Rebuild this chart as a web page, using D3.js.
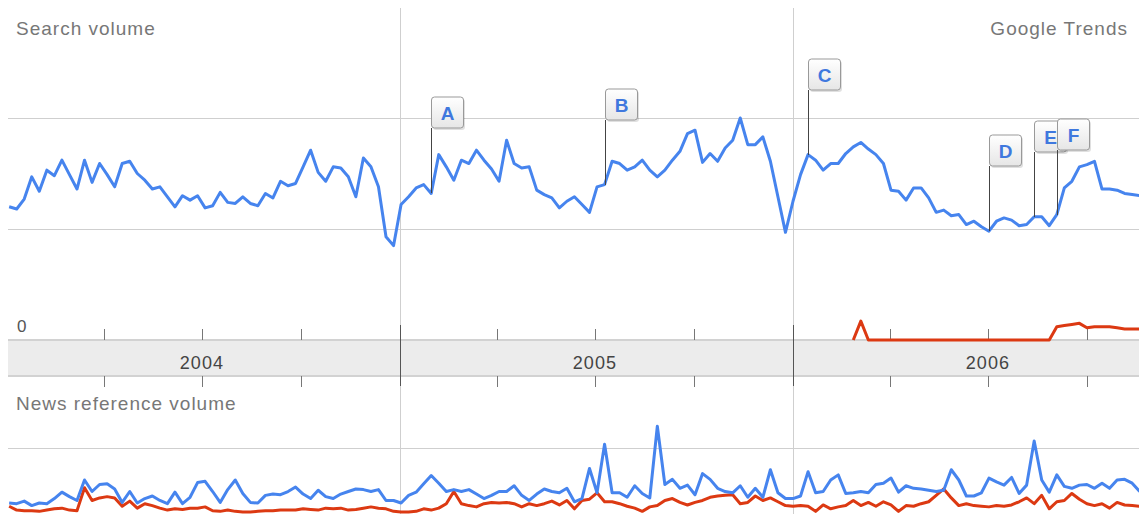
<!DOCTYPE html>
<html lang="en">
  <head>
    <meta charset="UTF-8" />
    <title>Google Trends</title>
    <style>
      body {
        margin: 0;
        background: #fff;
      }
      svg {
        display: block;
        font-family: "Liberation Sans", Arial, sans-serif;
      }
    </style>
  </head>

  <body>
    <div class="container"></div>

    <script src="https://d3js.org/d3.v7.min.js"></script>
    <script>
      // weekly data, first week starts 2004-01-04
      const firstWeek = new Date(Date.UTC(2004, 0, 4));

      // search volume, term 1 (blue)
      const searchBlue = [
        1.20, 1.18, 1.27, 1.47, 1.34, 1.53, 1.48, 1.62, 1.49, 1.36, 1.62, 1.42, 1.59, 1.49, 1.38, 1.59, 1.61, 1.50, 1.44, 1.36,
        1.38, 1.29, 1.20, 1.30, 1.26, 1.30, 1.19, 1.21, 1.33, 1.24, 1.23, 1.29, 1.23, 1.21, 1.32, 1.28, 1.43, 1.39, 1.41, 1.56,
        1.71, 1.51, 1.43, 1.56, 1.55, 1.47, 1.29, 1.64, 1.56, 1.38, 0.93, 0.85, 1.22, 1.29, 1.37, 1.40, 1.32, 1.67, 1.56, 1.44,
        1.62, 1.59, 1.71, 1.62, 1.54, 1.43, 1.80, 1.59, 1.55, 1.56, 1.35, 1.31, 1.28, 1.19, 1.25, 1.29, 1.22, 1.15, 1.38, 1.40,
        1.61, 1.59, 1.53, 1.56, 1.62, 1.53, 1.47, 1.53, 1.62, 1.70, 1.86, 1.89, 1.60, 1.68, 1.61, 1.73, 1.80, 2.00, 1.76, 1.76,
        1.83, 1.61, 1.29, 0.97, 1.25, 1.49, 1.67, 1.62, 1.53, 1.59, 1.59, 1.68, 1.74, 1.78, 1.72, 1.67, 1.59, 1.35, 1.34, 1.26,
        1.37, 1.37, 1.28, 1.15, 1.17, 1.12, 1.13, 1.04, 1.07, 1.02, 0.98, 1.07, 1.10, 1.08, 1.03, 1.04, 1.11, 1.11, 1.03, 1.13,
        1.37, 1.43, 1.56, 1.58, 1.61, 1.36, 1.36, 1.35, 1.32, 1.31, 1.30
      ];

      // search volume, term 2 (red) - only has data from week 112 on
      const searchRedFrom = 112;
      const searchRed = [
        0.00, 0.17, 0.00, 0.00, 0.00, 0.00, 0.00, 0.00, 0.00, 0.00, 0.00, 0.00, 0.00, 0.00, 0.00, 0.00, 0.00, 0.00, 0.00, 0.00,
        0.00, 0.00, 0.00, 0.00, 0.00, 0.00, 0.00, 0.12, 0.13, 0.14, 0.15, 0.11, 0.12, 0.12, 0.12, 0.11, 0.10, 0.10, 0.10
      ];

      // news reference volume
      const newsBlue = [
        0.14, 0.13, 0.17, 0.10, 0.14, 0.13, 0.21, 0.31, 0.24, 0.18, 0.50, 0.32, 0.43, 0.44, 0.36, 0.15, 0.32, 0.14, 0.21, 0.25,
        0.18, 0.13, 0.31, 0.13, 0.23, 0.46, 0.48, 0.32, 0.15, 0.35, 0.50, 0.29, 0.15, 0.14, 0.26, 0.28, 0.27, 0.32, 0.39, 0.28,
        0.21, 0.34, 0.24, 0.21, 0.28, 0.32, 0.36, 0.35, 0.32, 0.35, 0.18, 0.18, 0.14, 0.26, 0.31, 0.44, 0.57, 0.45, 0.32, 0.35,
        0.32, 0.35, 0.28, 0.21, 0.26, 0.32, 0.32, 0.41, 0.26, 0.18, 0.28, 0.36, 0.32, 0.30, 0.37, 0.16, 0.21, 0.68, 0.30, 1.06,
        0.30, 0.30, 0.23, 0.41, 0.29, 0.22, 1.34, 0.43, 0.51, 0.37, 0.42, 0.27, 0.60, 0.51, 0.37, 0.32, 0.30, 0.41, 0.23, 0.37,
        0.23, 0.66, 0.30, 0.21, 0.21, 0.25, 0.63, 0.30, 0.32, 0.50, 0.58, 0.29, 0.30, 0.32, 0.30, 0.43, 0.45, 0.53, 0.31, 0.41,
        0.37, 0.36, 0.34, 0.32, 0.34, 0.66, 0.50, 0.25, 0.25, 0.30, 0.53, 0.47, 0.42, 0.54, 0.29, 0.42, 1.11, 0.50, 0.31, 0.58,
        0.40, 0.37, 0.42, 0.43, 0.37, 0.45, 0.37, 0.50, 0.51, 0.45, 0.32
      ];
      const newsRed = [
        0.09, 0.03, 0.02, 0.02, 0.01, 0.03, 0.05, 0.06, 0.03, 0.02, 0.38, 0.18, 0.22, 0.24, 0.22, 0.09, 0.17, 0.06, 0.13, 0.10,
        0.06, 0.03, 0.05, 0.04, 0.06, 0.06, 0.08, 0.02, 0.01, 0.03, 0.01, 0.00, 0.00, 0.01, 0.02, 0.02, 0.03, 0.03, 0.03, 0.05,
        0.04, 0.03, 0.06, 0.05, 0.06, 0.03, 0.04, 0.06, 0.08, 0.06, 0.05, 0.01, 0.00, 0.00, 0.01, 0.05, 0.03, 0.06, 0.13, 0.32,
        0.13, 0.10, 0.08, 0.13, 0.15, 0.14, 0.15, 0.13, 0.08, 0.13, 0.10, 0.13, 0.17, 0.11, 0.18, 0.05, 0.18, 0.20, 0.30, 0.16,
        0.16, 0.13, 0.09, 0.06, 0.01, 0.08, 0.10, 0.18, 0.21, 0.15, 0.11, 0.15, 0.18, 0.23, 0.25, 0.26, 0.27, 0.13, 0.15, 0.25,
        0.18, 0.22, 0.16, 0.10, 0.09, 0.10, 0.09, 0.01, 0.11, 0.05, 0.08, 0.10, 0.18, 0.10, 0.15, 0.09, 0.16, 0.11, 0.01, 0.10,
        0.09, 0.13, 0.16, 0.26, 0.36, 0.22, 0.10, 0.13, 0.10, 0.09, 0.08, 0.10, 0.09, 0.11, 0.16, 0.22, 0.13, 0.26, 0.05, 0.16,
        0.18, 0.29, 0.20, 0.13, 0.10, 0.13, 0.06, 0.15, 0.11, 0.10, 0.09
      ];

      // annotation flags
      const flagLetters = ["A", "B", "C", "D", "E", "F"];
      const flagWeeks = ["2005-01-30", "2005-07-10", "2006-01-15", "2006-07-02", "2006-08-13", "2006-09-03"];

      const years = ["2004", "2005", "2006"];

      // ---------------------------------------------------------------
      const W = 1139, H = 514;
      const left = 8;
      const blue = "#4684ee", red = "#dc3912";

      const svg = d3.select(".container").append("svg").attr("width", W).attr("height", H);

      const weeks = searchBlue.map((d, i) => d3.utcWeek.offset(firstWeek, i));

      const x = d3
        .scaleUtc()
        .domain([new Date(Date.UTC(2005, 0, 1)), new Date(Date.UTC(2006, 0, 1))])
        .range([400, 793]);
      const yTop = d3.scaleLinear().domain([0, 2]).range([340, 118]);
      const yBot = d3.scaleLinear().domain([0, 1]).range([512, 448]);

      // horizontal grid
      svg
        .selectAll("line.hgrid")
        .data([yTop(1), yTop(2), yBot(1)])
        .enter()
        .append("line")
        .attr("x1", left)
        .attr("x2", W)
        .attr("y1", (d) => Math.round(d) + 0.5)
        .attr("y2", (d) => Math.round(d) + 0.5)
        .attr("stroke", "#cfcfcf");

      // year band
      const bandTop = 340, bandBot = 376;
      svg.append("rect").attr("x", left).attr("y", bandTop).attr("width", W - left).attr("height", bandBot - bandTop).attr("fill", "#ececec");
      svg
        .selectAll("line.band")
        .data([bandTop, bandBot])
        .enter()
        .append("line")
        .attr("x1", left)
        .attr("x2", W)
        .attr("y1", (d) => d)
        .attr("y2", (d) => d)
        .attr("stroke", "#d2d2d2")
        .attr("stroke-width", 2);

      // ticks
      const months = d3.utcMonth
        .every(3)
        .range(new Date(Date.UTC(2004, 0, 1)), new Date(Date.UTC(2007, 0, 1)))
        .filter((d) => x(d) > left && x(d) < W);
      const yearStarts = months.filter((d) => d.getUTCMonth() === 0);
      const quarters = months.filter((d) => d.getUTCMonth() !== 0);

      // year grid lines, full height
      svg
        .selectAll("line.vgrid")
        .data(yearStarts)
        .enter()
        .append("line")
        .attr("x1", (d) => Math.round(x(d)) + 0.5)
        .attr("x2", (d) => Math.round(x(d)) + 0.5)
        .attr("y1", 8)
        .attr("y2", H)
        .attr("stroke", "#cfcfcf");

      svg
        .selectAll("line.ytick")
        .data(yearStarts)
        .enter()
        .append("line")
        .attr("x1", (d) => Math.round(x(d)) + 0.5)
        .attr("x2", (d) => Math.round(x(d)) + 0.5)
        .attr("y1", 325)
        .attr("y2", 386)
        .attr("stroke", "#555");

      [[329, bandTop], [bandBot, 387]].forEach(([a, b]) => {
        svg
          .append("g")
          .selectAll("line")
          .data(quarters)
          .enter()
          .append("line")
          .attr("x1", (d) => Math.round(x(d)) + 0.5)
          .attr("x2", (d) => Math.round(x(d)) + 0.5)
          .attr("y1", a)
          .attr("y2", b)
          .attr("stroke", "#777");
      });

      svg
        .selectAll("text.year")
        .data(years)
        .enter()
        .append("text")
        .attr("x", (d) => x(new Date(Date.UTC(+d, 6, 1))))
        .attr("y", 369)
        .attr("text-anchor", "middle")
        .attr("font-size", 18)
        .attr("letter-spacing", 1)
        .attr("fill", "#444")
        .text((d) => d);

      // labels
      const label = (t, lx, ly, anchor, size, col) =>
        svg
          .append("text")
          .attr("x", lx)
          .attr("y", ly)
          .attr("text-anchor", anchor)
          .attr("font-size", size)
          .attr("letter-spacing", 1)
          .attr("fill", col)
          .text(t);
      label("Search volume", 16, 35, "start", 19, "#777");
      label("Google Trends", 1128, 35, "end", 19, "#777");
      label("0", 17, 332, "start", 17, "#555");
      label("News reference volume", 16, 410, "start", 19, "#777");

      // lines
      const line = (ys) =>
        d3
          .line()
          .x((d) => x(d[0]))
          .y((d) => ys(d[1]));

      const draw = (pts, ys, col) =>
        svg
          .append("path")
          .datum(pts)
          .attr("d", line(ys))
          .attr("fill", "none")
          .attr("stroke", col)
          .attr("stroke-width", 3)
          .attr("stroke-linejoin", "round");

      draw(newsRed.map((v, i) => [weeks[i], v]), yBot, red);
      draw(newsBlue.map((v, i) => [weeks[i], v]), yBot, blue);
      draw(searchRed.map((v, i) => [weeks[i + searchRedFrom], v]), yTop, red);
      draw(searchBlue.map((v, i) => [weeks[i], v]), yTop, blue);

      // flags
      const defs = svg.append("defs");
      const grad = defs.append("linearGradient").attr("id", "flagfill").attr("x1", 0).attr("y1", 0).attr("x2", 0).attr("y2", 1);
      grad.append("stop").attr("offset", "0%").attr("stop-color", "#ffffff");
      grad.append("stop").attr("offset", "100%").attr("stop-color", "#e6e6e6");

      const flags = flagLetters.map((l, i) => {
        const t = Date.parse(flagWeeks[i]);
        const k = weeks.findIndex((w) => w.getTime() === t);
        return { letter: l, date: weeks[k], value: searchBlue[k] };
      });

      const fg = svg
        .selectAll("g.flag")
        .data(flags)
        .enter()
        .append("g")
        .attr("transform", (d) => `translate(${Math.round(x(d.date)) + 0.5},${Math.round(yTop(d.value))})`);

      fg.append("line").attr("x1", 0).attr("x2", 0).attr("y1", -65).attr("y2", 0).attr("stroke", "#444");
      fg.append("rect")
        .attr("x", 1.5)
        .attr("y", -94)
        .attr("width", 32)
        .attr("height", 31)
        .attr("rx", 3)
        .attr("fill", "#000")
        .attr("opacity", 0.12);
      fg.append("rect")
        .attr("x", 0)
        .attr("y", -96)
        .attr("width", 32)
        .attr("height", 31)
        .attr("rx", 3)
        .attr("fill", "url(#flagfill)")
        .attr("stroke", "#999");
      fg.append("text")
        .attr("x", 16)
        .attr("y", -73)
        .attr("text-anchor", "middle")
        .attr("font-size", 19)
        .attr("font-weight", "bold")
        .attr("fill", "#3f78de")
        .text((d) => d.letter);
    </script>
  </body>
</html>
